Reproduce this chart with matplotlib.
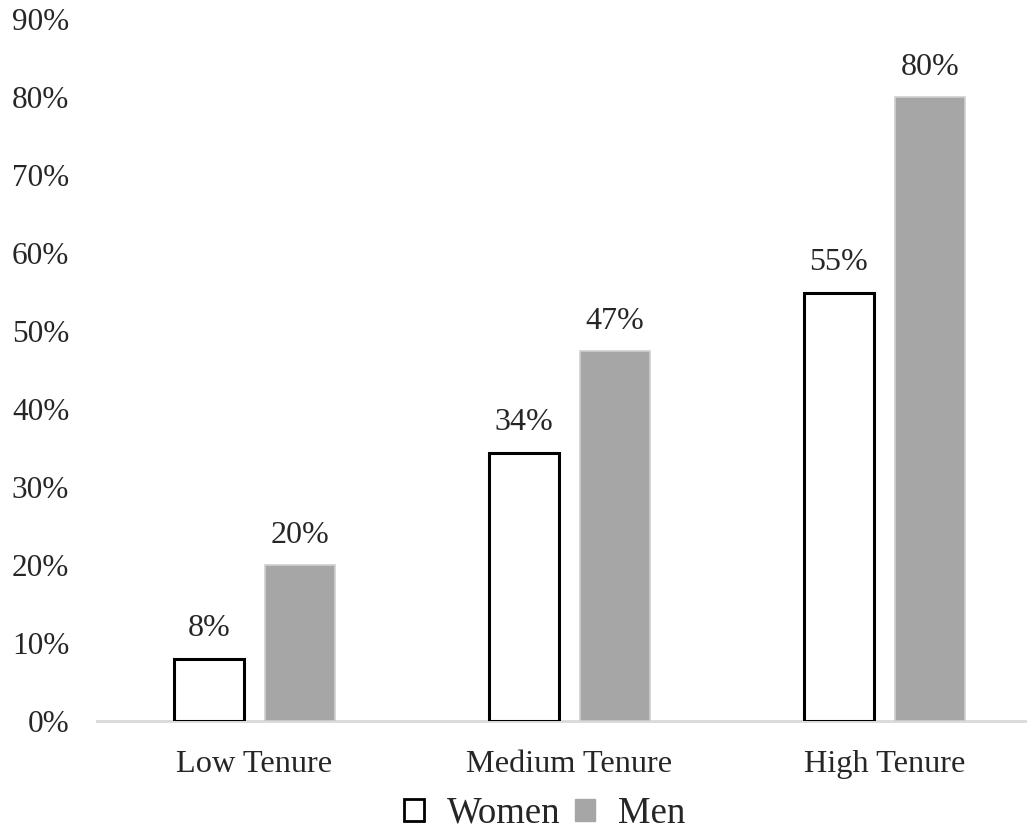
import numpy as np
import matplotlib.pyplot as plt
from matplotlib.patches import Patch

# dane
kategorie = ['Low Tenure', 'Medium Tenure', 'High Tenure']
kobiety = [8, 34.4, 54.9]
mezczyzni = [20, 47.4, 80]
etykiety_k = ['8%', '34%', '55%']
etykiety_m = ['20%', '47%', '80%']
ticki_y = [0, 10, 20, 30, 40, 50, 60, 70, 80, 90]

plt.rcParams['font.family'] = ['Liberation Serif', 'DejaVu Serif']
kolor_tekstu = '#262626'
szary = '#a6a6a6'

fig = plt.figure(figsize=(10.27, 8.38), dpi=100)
ax = fig.add_axes([0.0945, 0.1396, 0.920, 0.8378])

x = np.arange(len(kategorie))
szer = 0.222
przes = 0.145

s1 = ax.bar(x - przes, kobiety, szer, facecolor='white', edgecolor='black', linewidth=2.2, zorder=3)
s2 = ax.bar(x + przes, mezczyzni, szer, facecolor=szary, edgecolor='#d0d0d0', linewidth=1.2, zorder=3)

for prost, tekst in zip(s1, etykiety_k):
    ax.annotate(tekst, (prost.get_x() + prost.get_width() / 2, prost.get_height()),
                xytext=(0, 11), textcoords='offset points', ha='center', va='bottom',
                fontsize=23, color=kolor_tekstu)
for prost, tekst in zip(s2, etykiety_m):
    ax.annotate(tekst, (prost.get_x() + prost.get_width() / 2, prost.get_height()),
                xytext=(0, 11), textcoords='offset points', ha='center', va='bottom',
                fontsize=23, color=kolor_tekstu)

ax.set_xlim(-0.5, 2.5)
ax.set_ylim(0, 90)
ax.set_yticks(ticki_y)
ax.set_yticklabels([f'{v}%' for v in ticki_y])
ax.set_xticks(x)
ax.set_xticklabels(kategorie)
ax.tick_params(axis='y', length=0, pad=20, labelsize=22.5, labelcolor=kolor_tekstu)
ax.tick_params(axis='x', length=0, pad=21, labelsize=23.3, labelcolor=kolor_tekstu)

for s in ['left', 'right', 'top']:
    ax.spines[s].set_visible(False)
ax.spines['bottom'].set_color('#d9d9d9')
ax.spines['bottom'].set_linewidth(2)
ax.spines['bottom'].set_zorder(2)

uchwyty = [Patch(facecolor='white', edgecolor='black', linewidth=2, label='Women'),
           Patch(facecolor=szary, edgecolor=szary, label='Men')]
fig.legend(handles=uchwyty, loc='lower center', bbox_to_anchor=(0.53, -0.031), ncol=2,
           frameon=False, fontsize=26.5, handlelength=0.55, handleheight=0.55,
           handletextpad=0.62, columnspacing=0.4, labelcolor=kolor_tekstu)

fig.savefig('out.png', dpi=100)
